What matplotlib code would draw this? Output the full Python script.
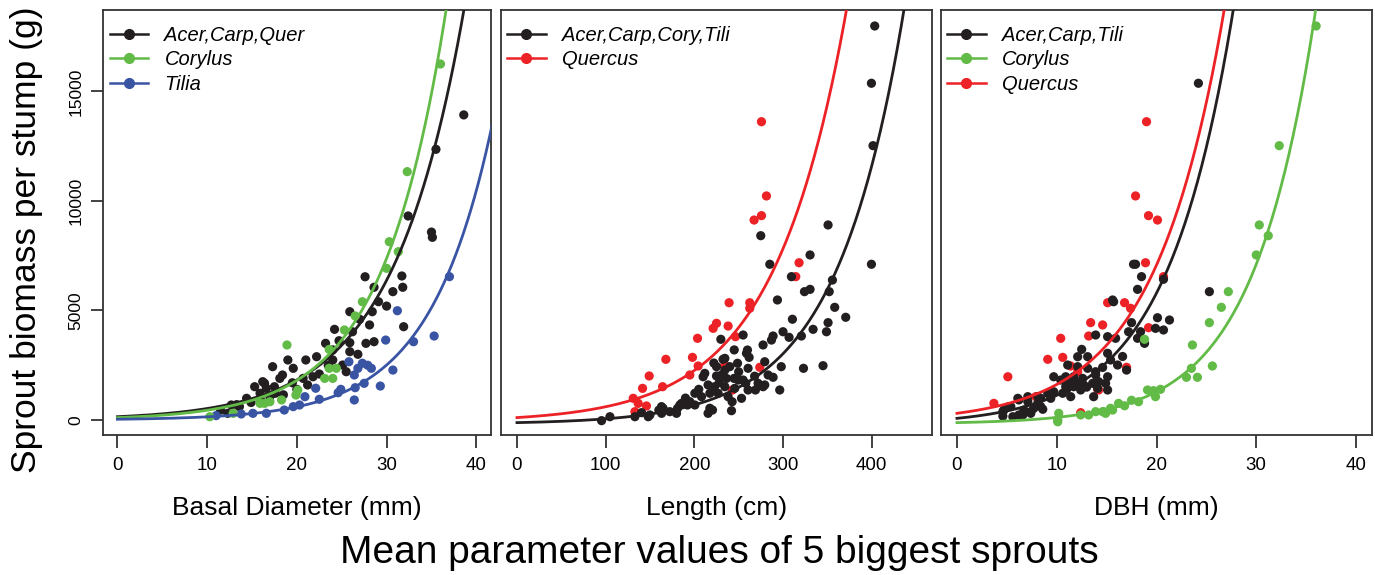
import numpy as np
import matplotlib
matplotlib.use('Agg')
import matplotlib.pyplot as plt
from matplotlib.lines import Line2D

plt.rcParams['font.family'] = ['Liberation Sans', 'DejaVu Sans']

BLACK = '#231f20'
GREEN = '#62bb46'
BLUE = '#3a54a4'
RED = '#ec2227'

# ---- panel 1: basal diameter (mm)
bd_acq_x = [38.6, 35.5, 32.4, 35.0, 35.1, 31.7, 27.6, 28.6, 31.8, 30.7, 29.1, 28.4, 25.9, 28.1, 31.9,
            24.2, 26.2, 24.7, 27.7, 28.6, 23.2, 25.9, 22.2, 21.0, 19.0, 17.3, 19.6, 18.4, 18.1, 20.7,
            21.8, 25.5, 25.1, 24.0, 16.2, 15.3, 16.6, 17.5, 15.9, 17.0, 14.4, 12.7, 13.6, 12.3, 21.2,
            25.9, 24.0, 16.4, 17.6, 18.5, 14.9, 16.0, 11.5, 13.3, 20.0, 22.5, 19.5, 23.5, 26.8, 27.0, 30.0]
bd_acq_y = [13930, 12360, 9315, 8580, 8340, 6575, 6540, 6060, 6060, 5860, 5400, 4945, 4945, 4340, 4260,
            4140, 4030, 3620, 3500, 3575, 3500, 3530, 2890, 2740, 2740, 2435, 2360, 2055, 1900, 1900,
            1975, 2205, 2510, 2740, 1750, 1520, 1445, 1520, 1220, 1065, 990, 685, 610, 305, 1600,
            3120, 3200, 1675, 1220, 1150, 800, 900, 450, 700, 1400, 2100, 1700, 2500, 3000, 4600, 5200]
bd_cor_x = [36.0, 32.3, 30.3, 31.3, 30.0, 27.3, 26.5, 25.3, 18.9, 23.6, 24.4, 23.6, 23.1, 24.0,
            19.9, 18.3, 20.1, 16.4, 17.0, 15.9, 12.9, 10.3]
bd_cor_y = [16255, 11340, 8140, 7685, 6925, 5400, 4750, 4110, 3425, 3225, 2360, 2360, 1900, 1900,
            1140, 915, 1365, 760, 835, 760, 305, 150]
bd_til_x = [37.0, 31.2, 35.3, 29.9, 33.0, 30.7, 25.8, 27.3, 28.3, 26.8, 26.4, 27.5, 29.3, 26.5,
            26.4, 24.9, 24.6, 22.1, 22.5, 20.9, 20.3, 19.6, 18.6, 16.6, 15.1, 13.8, 11.0, 27.9]
bd_til_y = [6545, 4990, 3835, 3650, 3575, 2280, 2660, 2590, 2360, 2360, 2055, 1675, 1550, 1475,
            915, 1400, 1245, 1450, 945, 1065, 685, 610, 455, 305, 305, 275, 200, 2500]

# ---- panel 2: length (cm)
ln_acct_x = [403.4, 399.7, 401.5, 350.8, 274.9, 330.5, 399.7, 285.1, 309.5, 355.7, 324.2, 330.5, 352.1,
             293.7, 358.3, 370.7, 310.6, 350.8, 349.0, 333.9, 300.0, 320.7, 306.8, 298.0, 323.1, 345.1,
             296.3, 288.8, 287.0, 277.5, 259.9, 258.8, 255.0, 229.9, 234.4, 248.7, 225.0, 234.4, 240.0,
             260.6, 279.4, 283.2, 288.8, 271.9, 277.5, 211.8, 209.9, 225.0, 236.3, 244.8, 255.0, 215.5,
             222.8, 234.4, 245.6, 260.6, 268.9, 200.6, 208.1, 217.5, 226.8, 238.1, 253.2, 194.9, 200.6,
             185.6, 181.1, 192.3, 215.5, 220.5, 241.9, 164.8, 172.4, 179.9, 163.1, 148.0, 140.5, 133.0,
             104.8, 95.4, 242.6, 261.8, 232.4, 230.7, 249.4, 258.0, 279.4, 183.7, 163.0, 149.9, 217.5,
             160.0, 190.0, 205.0, 228.0, 250.0, 268.0, 245.0, 222.0]
ln_acct_y = [17990, 15375, 12525, 8905, 8415, 7535, 7110, 7110, 6545, 6390, 5860, 5965, 5860,
             5480, 5145, 4690, 4600, 4445, 4030, 4140, 4030, 3835, 3775, 2435, 2360, 2480,
             1370, 3835, 3650, 3425, 3195, 3045, 3880, 3685, 2815, 2590, 2435, 2280, 2435,
             2360, 2660, 2055, 1950, 1675, 1520, 2130, 1975, 2010, 1900, 1900, 1825, 1600,
             1520, 1520, 1445, 1370, 1370, 1220, 1065, 1220, 1220, 1065, 990, 835, 685,
             760, 535, 685, 305, 455, 425, 535, 380, 305, 305, 150, 335, 150,
             150, -30, 835, 2860, 2770, 2055, 1825, 1675, 1600, 685, 610, 230, 535,
             450, 1000, 1400, 1700, 2200, 2000, 3200, 2600]
ln_que_x = [275.7, 281.3, 275.7, 267.4, 318.1, 314.4, 262.5, 239.2, 262.5, 225.0, 221.2, 238.1, 246.4,
            203.6, 167.9, 197.9, 204.3, 194.9, 149.1, 164.2, 141.6, 131.1, 136.7, 146.0, 133.0, 273.8,
            234.4, 243.0]
ln_que_y = [13620, 10230, 9330, 9130, 7180, 6545, 5355, 5355, 5100, 4415, 4185, 4290, 3805,
            3730, 2770, 2860, 2465, 2055, 2010, 1520, 1445, 990, 760, 640, 380, 2405,
            2510, 1370]

# ---- panel 3: DBH (mm)
dbh_act_x = [24.2, 25.3, 17.7, 17.9, 18.5, 20.7, 18.1, 15.6, 15.7, 20.1, 21.3, 19.9, 20.7, 17.5, 17.2,
             18.4, 18.1, 18.8, 13.9, 15.1, 15.9, 12.5, 12.1, 13.1, 15.1, 15.4, 16.1, 17.0, 11.1, 12.1,
             13.1, 9.7, 10.9, 11.7, 12.6, 13.9, 14.2, 15.1, 14.9, 14.1, 15.1, 13.6, 12.7, 11.7, 10.9,
             12.4, 10.6, 9.7, 13.7, 11.4, 9.4, 8.4, 8.1, 7.1, 6.1, 7.7, 8.6, 6.7, 5.4, 4.7,
             4.6, 5.6, 6.2, 7.4, 13.9, 10.4, 11.2, 9.1, 8.1, 7.1, 6.2, 5.2, 4.6, 6.6, 7.4,
             8.4, 12.0, 13.0, 11.0, 14.6, 16.6]
dbh_act_y = [15375, 5860, 7110, 7110, 6545, 6425, 5965, 5480, 5400, 4670, 4565, 4185, 4110, 4445, 4030,
             4030, 3730, 3500, 3880, 3805, 3730, 3225, 2890, 2890, 3045, 2740, 2510, 2280, 2510, 2435,
             2360, 1975, 1975, 1975, 1900, 2055, 1750, 1975, 1675, 1445, 1370, 1675, 1600, 1520, 1520,
             1370, 1220, 1290, 1065, 1065, 990, 990, 760, 835, 990, 535, 490, 455, 610, 455,
             180, 150, 230, 305, 2205, 1825, 1750, 1220, 1065, 1065, 915, 610, 380, 230, 380,
             610, 1700, 1500, 1400, 2400, 2900]
dbh_cor_x = [36.0, 32.3, 30.3, 31.2, 30.0, 27.2, 26.5, 25.3, 23.6, 18.8, 25.6, 23.5, 23.0, 24.1,
             20.4, 19.7, 19.1, 19.9, 18.2, 16.2, 15.6, 14.9, 15.4, 14.7, 13.9, 13.2, 12.4, 10.2,
             10.1, 10.1, 14.6, 16.8, 17.5]
dbh_cor_y = [17990, 12525, 8905, 8415, 7535, 5860, 5145, 4445, 3425, 3685, 2465, 2360, 1950, 1950,
             1400, 1340, 1370, 1065, 835, 760, 455, 305, 535, 380, 380, 230, 230, 305,
             0, -80, 380, 650, 900]
dbh_que_x = [19.0, 17.9, 19.2, 20.1, 18.9, 20.7, 15.1, 16.8, 17.4, 13.4, 14.6, 13.2, 19.2,
             10.4, 9.1, 10.6, 11.4, 17.0, 5.1, 3.7, 14.1, 12.4, 12.1, 14.2, 7.9]
dbh_que_y = [13620, 10230, 9330, 9130, 7180, 6545, 5355, 5355, 5100, 4445, 4340, 3835, 4215,
             3730, 2770, 2860, 2465, 2405, 1975, 760, 1400, 335, 2205, 1370, 1065]

# fitted curves y = a*exp(b*x) + c
fits1 = {'acq': (150, 0.125, 0), 'cor': (109, 0.1405, 0), 'til': (34.5, 0.1429, 0)}
fits2 = {'acct': (65, 0.013, -185), 'que': (210, 0.0121, -100)}
fits3 = {'act': (306, 0.149, -231), 'cor': (60, 0.16, -180), 'que': (420, 0.142, -115)}

W, H = 1375, 575
fig = plt.figure(figsize=(W / 100, H / 100), dpi=100)
bot = 1 - 435 / H
hgt = 425 / H
ax1 = fig.add_axes([103 / W, bot, 387.7 / W, hgt])
ax2 = fig.add_axes([501 / W, bot, 431 / W, hgt])
ax3 = fig.add_axes([941 / W, bot, 431 / W, hgt])


def curve(ax, p, xmax, col):
    a, b, c = p
    xx = np.linspace(0, xmax, 400)
    ax.plot(xx, a * np.exp(b * xx) + c, color=col, lw=2.0, zorder=3)


def pts(ax, x, y, col):
    ax.scatter(x, y, s=44, color=col, edgecolors='none', zorder=2)


pts(ax1, bd_acq_x, bd_acq_y, BLACK)
pts(ax1, bd_til_x, bd_til_y, BLUE)
pts(ax1, bd_cor_x, bd_cor_y, GREEN)
curve(ax1, fits1['acq'], 42, BLACK)
curve(ax1, fits1['cor'], 42, GREEN)
curve(ax1, fits1['til'], 42, BLUE)

pts(ax2, ln_que_x, ln_que_y, RED)
pts(ax2, ln_acct_x, ln_acct_y, BLACK)
curve(ax2, fits2['acct'], 470, BLACK)
curve(ax2, fits2['que'], 470, RED)

pts(ax3, dbh_que_x, dbh_que_y, RED)
pts(ax3, dbh_act_x, dbh_act_y, BLACK)
pts(ax3, dbh_cor_x, dbh_cor_y, GREEN)
curve(ax3, fits3['act'], 42, BLACK)
curve(ax3, fits3['cor'], 42, GREEN)
curve(ax3, fits3['que'], 42, RED)

xlabels = ['Basal Diameter (mm)', 'Length (cm)', 'DBH (mm)']
legends = [[('Acer,Carp,Quer', BLACK), ('Corylus', GREEN), ('Tilia', BLUE)],
           [('Acer,Carp,Cory,Tili', BLACK), ('Quercus', RED)],
           [('Acer,Carp,Tili', BLACK), ('Corylus', GREEN), ('Quercus', RED)]]

for i, ax in enumerate([ax1, ax2, ax3]):
    ax.set_ylim(-685, 18720)
    if i == 1:
        ax.set_xlim(-18, 468)
        ax.set_xticks([0, 100, 200, 300, 400])
    else:
        ax.set_xlim(-1.6, 41.6)
        ax.set_xticks([0, 10, 20, 30, 40])
    for s in ax.spines.values():
        s.set_linewidth(1.3)
        s.set_color('#333333')
    ax.tick_params(axis='x', length=9, width=1.3, labelsize=13.5, pad=7, color='#333333')
    ax.set_xlabel(xlabels[i], fontsize=19, labelpad=16)
    if i == 0:
        ax.set_yticks([0, 5000, 10000, 15000])
        ax.tick_params(axis='y', length=9, width=1.3, labelsize=12.5, pad=5, color='#333333')
        for t in ax.get_yticklabels():
            t.set_rotation(90)
            t.set_va('center')
    else:
        ax.set_yticks([])
    hs = [Line2D([], [], color=c, lw=1.8, marker='o', markersize=7) for _, c in legends[i]]
    ax.legend(hs, [n for n, _ in legends[i]], loc='upper left', bbox_to_anchor=(-0.018, 0.995),
              frameon=False, prop={'style': 'italic', 'size': 14.5}, handlelength=1.9,
              handletextpad=0.8, labelspacing=0.26, borderpad=0.2)

fig.text(27 / W, 1 - 240 / H, 'Sprout biomass per stump (g)', rotation=90, fontsize=25.5,
         ha='center', va='center')
fig.text(719 / W, 1 - 553 / H, 'Mean parameter values of 5 biggest sprouts', fontsize=28,
         ha='center', va='center')

fig.savefig('out.png', dpi=100)
